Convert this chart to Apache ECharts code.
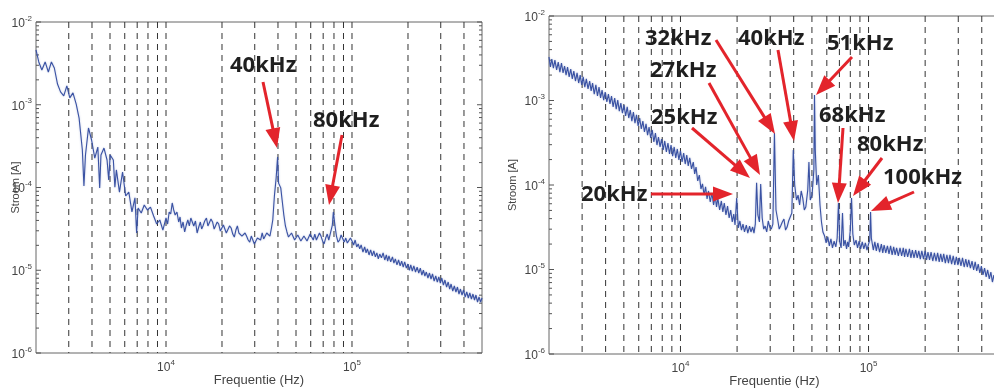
<!DOCTYPE html>
<html>
<head>
<meta charset="utf-8">
<script src="https://cdn.jsdelivr.net/npm/echarts@6/dist/echarts.min.js"></script>
<style>
html, body { margin: 0; padding: 0; background: #fff; }
#chart { width: 994px; height: 389px; }
</style>
</head>
<body>
<div id="chart"></div>
<script>
// spectra: [frequency (Hz), current (A)]
const leftSpectrum = [
	[2000, 4.59e-3], [2070, 3.29e-3], [2150, 2.63e-3], [2240, 3.29e-3], [2330, 2.49e-3], [2420, 3.29e-3], [2510, 2.78e-3], [2610, 1.78e-3], [2710, 1.43e-3], [2820, 1.28e-3],
	[2930, 1.69e-3], [3040, 1.21e-3], [3160, 1.39e-3], [3290, 1.02e-3], [3410, 6.9e-4], [3550, 2.84e-4], [3620, 1.04e-4], [3690, 2.47e-4], [3830, 5.24e-4], [3980, 3.75e-4],
	[4140, 2.27e-4], [4300, 3.08e-4], [4400, 9.9e-5], [4470, 2.47e-4], [4640, 3.0e-4], [4820, 2.15e-4], [4920, 1.23e-4], [5010, 2.47e-4], [5210, 2.15e-4], [5310, 1.01e-4],
	[5410, 1.63e-4], [5620, 8.8e-5], [5840, 1.54e-4], [6070, 7.9e-5], [6310, 8.8e-5], [6560, 5.06e-5], [6810, 7.5e-5], [6950, 2.82e-5], [7080, 5.65e-5], [7360, 4.92e-5],
	[7640, 6.15e-5], [7940, 5.35e-5], [8250, 5.8e-5], [8580, 4.53e-5], [8910, 3.62e-5], [9260, 4.05e-5], [9620, 3.06e-5],
	[10000, 4.28e-5], [10200, 3.62e-5], [10400, 5.06e-5], [10600, 4.78e-5], [10800, 6.5e-5], [11000, 5.35e-5], [11200, 4.65e-5], [11450, 5.06e-5], [11700, 3.83e-5], [11900, 4.4e-5],
	[12100, 3.24e-5], [12350, 3.83e-5], [12600, 2.9e-5], [12850, 3.52e-5], [13100, 4.05e-5], [13350, 3.43e-5], [13600, 4.28e-5], [13850, 3.83e-5], [14100, 3.43e-5], [14400, 3.94e-5],
	[14700, 2.82e-5], [15000, 3.33e-5], [15300, 3.83e-5], [15550, 3.15e-5], [15800, 3.43e-5], [16150, 3.94e-5], [16500, 4.28e-5], [16800, 3.43e-5], [17100, 3.62e-5], [17450, 4.16e-5],
	[17800, 3.83e-5], [18150, 3.15e-5], [18500, 3.24e-5], [18850, 3.83e-5], [19200, 3.62e-5], [19600, 2.98e-5], [20000, 3.06e-5], [20350, 3.52e-5], [20700, 3.43e-5], [21100, 2.82e-5],
	[21500, 2.9e-5], [21950, 3.43e-5], [22400, 3.24e-5], [22850, 2.74e-5], [23300, 2.52e-5], [23750, 3.06e-5], [24200, 3.43e-5], [24650, 2.82e-5], [25100, 2.9e-5], [25600, 2.59e-5],
	[26100, 2.45e-5], [26600, 2.82e-5], [27100, 2.59e-5], [27650, 2.32e-5], [28200, 2.19e-5], [28750, 2.59e-5], [29300, 2.45e-5], [29850, 2.08e-5], [30400, 2.13e-5], [31000, 2.45e-5],
	[31600, 2.59e-5], [32250, 2.32e-5], [32900, 2.82e-5], [33500, 2.39e-5], [34100, 2.45e-5], [34800, 2.82e-5], [35500, 2.9e-5], [36200, 2.59e-5], [36900, 3.24e-5], [37500, 4.05e-5],
	[38300, 8.1e-5], [39100, 1.3e-4], [39800, 2.34e-4], [40300, 1.13e-4], [41400, 9.9e-5], [42100, 7.06e-5], [43000, 4.65e-5], [43850, 3.43e-5], [44700, 2.9e-5], [45550, 2.52e-5],
	[46400, 2.45e-5], [47300, 2.82e-5], [48200, 2.74e-5], [49150, 2.32e-5], [50100, 2.32e-5], [51100, 2.67e-5], [52100, 2.59e-5], [53100, 2.26e-5], [54100, 2.19e-5], [55150, 2.59e-5],
	[56200, 2.67e-5], [57300, 2.26e-5], [58400, 2.32e-5], [59550, 2.74e-5], [60700, 2.52e-5], [61900, 2.32e-5], [63100, 2.74e-5], [64350, 2.32e-5], [65600, 2.39e-5], [66850, 2.82e-5],
	[68100, 2.59e-5], [69450, 2.26e-5], [70800, 2.08e-5], [72200, 2.45e-5], [73600, 2.74e-5], [75000, 2.32e-5], [76400, 2.45e-5], [78400, 3.52e-5], [79400, 5.06e-5], [81300, 3.24e-5],
	[82500, 2.59e-5], [84100, 2.19e-5], [85800, 2.32e-5], [87400, 2.67e-5], [89100, 2.59e-5], [90850, 2.19e-5], [92600, 2.45e-5], [94400, 2.13e-5], [96200, 2.08e-5], [98100, 2.45e-5],
	[100000, 2.26e-5], [102000, 2.02e-5], [104000, 2.32e-5], [106000, 1.91e-5], [108000, 2.08e-5], [110000, 1.81e-5], [112000, 2.02e-5], [114500, 1.66e-5], [117000, 1.91e-5], [119000, 1.62e-5],
	[121000, 1.81e-5], [123500, 1.53e-5], [126000, 1.76e-5], [128500, 1.49e-5], [131000, 1.71e-5], [133500, 1.45e-5], [136000, 1.62e-5], [138500, 1.37e-5], [141000, 1.57e-5], [144000, 1.41e-5],
	[147000, 1.62e-5], [150000, 1.33e-5], [153000, 1.53e-5], [155500, 1.29e-5], [158000, 1.49e-5], [161500, 1.26e-5], [165000, 1.45e-5], [168000, 1.22e-5], [171000, 1.37e-5], [174500, 1.16e-5],
	[178000, 1.33e-5], [181500, 1.13e-5], [185000, 1.29e-5], [188500, 1.09e-5], [192000, 1.26e-5], [196000, 1.06e-5], [200000, 1.19e-5], [203500, 1.0e-5], [207000, 1.16e-5], [211000, 9.79e-6],
	[215000, 1.13e-5], [219500, 9.52e-6], [224000, 1.09e-5], [228500, 9.26e-6], [233000, 1.06e-5], [237500, 8.76e-6], [242000, 1.0e-5], [246500, 8.52e-6], [251000, 9.52e-6], [256000, 8.06e-6],
	[261000, 9.26e-6], [266000, 7.84e-6], [271000, 9.01e-6], [276500, 7.41e-6], [282000, 8.52e-6], [287500, 7.21e-6], [293000, 8.29e-6], [298500, 7.01e-6], [304000, 8.06e-6], [310000, 6.63e-6],
	[316000, 7.62e-6], [322500, 6.27e-6], [329000, 7.21e-6], [335000, 5.93e-6], [341000, 6.82e-6], [348000, 5.61e-6], [355000, 6.45e-6], [362000, 5.46e-6], [369000, 6.27e-6], [376000, 5.16e-6],
	[383000, 5.93e-6], [390500, 5.02e-6], [398000, 5.77e-6], [406000, 4.75e-6], [414000, 5.46e-6], [422000, 4.62e-6], [430000, 5.31e-6], [438500, 4.49e-6], [447000, 5.16e-6], [455500, 4.37e-6],
	[464000, 5.02e-6], [473000, 4.13e-6], [482000, 4.75e-6], [491000, 4.13e-6], [500000, 4.62e-6]
];

const rightSpectrum = [
	[2000, 3.27e-3], [2035, 2.49e-3], [2070, 3.1e-3], [2110, 2.42e-3], [2150, 3.01e-3], [2195, 2.3e-3], [2240, 2.85e-3], [2285, 2.17e-3], [2330, 2.78e-3], [2375, 2.12e-3],
	[2420, 2.56e-3], [2465, 2.0e-3], [2510, 2.49e-3], [2560, 1.9e-3], [2610, 2.36e-3], [2660, 1.8e-3], [2710, 2.23e-3], [2765, 1.7e-3], [2820, 2.12e-3], [2875, 1.61e-3],
	[2930, 2.0e-3], [2985, 1.53e-3], [3040, 1.9e-3], [3100, 1.44e-3], [3160, 1.8e-3], [3225, 1.37e-3], [3290, 1.7e-3], [3350, 1.3e-3], [3410, 1.61e-3], [3480, 1.19e-3],
	[3550, 1.53e-3], [3620, 1.13e-3], [3690, 1.44e-3], [3760, 1.07e-3], [3830, 1.33e-3], [3905, 1.01e-3], [3980, 1.26e-3], [4060, 9.6e-4], [4140, 1.19e-3], [4220, 9.1e-4],
	[4300, 1.13e-3], [4385, 8.4e-4], [4470, 1.07e-3], [4555, 7.9e-4], [4640, 1.01e-3], [4730, 7.5e-4], [4820, 9.3e-4], [4915, 7.1e-4], [5010, 8.85e-4], [5110, 6.55e-4],
	[5210, 8.4e-4], [5310, 6.2e-4], [5410, 7.72e-4], [5515, 5.7e-4], [5620, 7.31e-4], [5730, 5.4e-4], [5840, 6.75e-4], [5955, 5.0e-4], [6070, 6.2e-4], [6190, 4.6e-4],
	[6310, 5.7e-4], [6435, 4.24e-4], [6560, 5.3e-4], [6685, 3.9e-4], [6810, 4.86e-4], [6945, 3.6e-4], [7080, 4.48e-4], [7220, 3.23e-4], [7360, 4.12e-4], [7500, 2.97e-4],
	[7640, 3.7e-4], [7790, 2.82e-4], [7940, 3.5e-4], [8095, 2.6e-4], [8250, 3.32e-4], [8415, 2.46e-4], [8580, 3.14e-4], [8745, 2.33e-4], [8910, 2.97e-4], [9085, 2.2e-4],
	[9260, 2.82e-4], [9440, 2.09e-4], [9620, 2.67e-4], [9810, 1.98e-4],
	[10000, 2.53e-4], [10200, 1.87e-4], [10400, 2.39e-4], [10600, 1.77e-4], [10800, 2.26e-4], [11000, 1.68e-4], [11200, 2.09e-4], [11450, 1.55e-4], [11700, 1.87e-4], [11900, 1.35e-4],
	[12100, 1.63e-4], [12350, 1.12e-4], [12600, 1.31e-4], [12850, 8.97e-5], [13100, 1.03e-4], [13350, 7.61e-5], [13600, 9.5e-5], [13850, 6.83e-5], [14100, 8.5e-5], [14400, 6.29e-5],
	[14700, 8.04e-5], [15000, 5.8e-5], [15300, 7.41e-5], [15550, 5.49e-5], [15800, 7.02e-5], [16150, 5.06e-5], [16500, 6.47e-5], [16800, 4.79e-5], [17100, 6.12e-5], [17450, 4.42e-5],
	[17800, 5.64e-5], [18150, 4.07e-5], [18500, 5.06e-5], [18850, 3.65e-5], [19200, 4.54e-5], [19500, 3.36e-5], [19900, 7.02e-5], [20300, 3.1e-5], [20700, 3.75e-5], [21100, 2.93e-5],
	[21500, 3.45e-5], [21900, 2.78e-5], [22400, 3.36e-5], [22800, 2.7e-5], [23300, 3.27e-5], [23700, 2.78e-5], [24200, 3.18e-5], [24600, 2.7e-5], [25000, 3.45e-5], [25400, 1.06e-4],
	[25800, 4.42e-5], [26300, 3.65e-5], [26700, 1.03e-4], [27200, 4.07e-5], [27700, 3.01e-5], [28200, 3.27e-5], [28750, 2.78e-5], [29300, 3.75e-5], [29850, 3.18e-5], [30400, 3.01e-5],
	[31000, 3.45e-5], [31600, 4.12e-4], [32200, 5.06e-5], [32900, 3.85e-5], [33500, 3.01e-5], [34100, 3.27e-5], [34800, 3.65e-5], [35500, 3.96e-5], [36200, 2.93e-5], [36900, 3.18e-5],
	[37600, 3.75e-5], [38300, 3.65e-5], [39100, 4.66e-5], [39800, 2.6e-4], [40500, 1.0e-4], [41400, 6.65e-5], [42200, 7.6e-5], [43000, 5.8e-5], [43850, 8.5e-5], [44700, 7.0e-5],
	[45550, 5.06e-5], [46400, 5.5e-5], [47500, 8.7e-5], [48200, 1.87e-4], [49000, 6.65e-5], [50100, 7.6e-5], [51200, 1.51e-4], [51600, 1.16e-3], [52100, 2.6e-4], [53000, 1.0e-4],
	[54100, 1.31e-4], [55200, 5.8e-5], [56200, 3.65e-5], [57200, 2.78e-5], [58400, 2.49e-5], [59500, 2.06e-5], [60700, 2.43e-5], [61900, 1.9e-5], [63100, 2.3e-5], [64300, 1.8e-5],
	[65600, 2.17e-5], [67000, 1.85e-5], [68100, 2.36e-5], [69200, 6.12e-5], [70300, 2.12e-5], [71500, 1.8e-5], [72700, 4.66e-5], [73800, 1.9e-5], [75100, 2.23e-5], [76400, 1.75e-5],
	[77400, 2.12e-5], [78400, 1.85e-5], [80000, 2.93e-5], [81200, 7.02e-5], [82500, 2.63e-5], [84000, 1.95e-5], [85800, 2.23e-5], [87400, 1.8e-5], [89100, 2.17e-5], [90800, 1.75e-5],
	[92600, 2.12e-5], [94400, 1.75e-5], [96200, 2.06e-5], [98100, 1.7e-5],
	[100000, 2.0e-5], [101500, 2.23e-5], [102500, 4.79e-5], [103500, 2.36e-5], [106000, 1.7e-5], [108000, 2.12e-5], [110000, 1.66e-5], [112000, 2.06e-5], [114500, 1.61e-5], [117000, 2.0e-5],
	[119000, 1.57e-5], [121000, 1.95e-5], [123500, 1.57e-5], [126000, 1.9e-5], [128500, 1.53e-5], [131000, 1.9e-5], [133500, 1.49e-5], [136000, 1.85e-5], [138500, 1.49e-5], [141000, 1.8e-5],
	[144000, 1.45e-5], [147000, 1.8e-5], [150000, 1.45e-5], [153000, 1.8e-5], [155500, 1.41e-5], [158000, 1.75e-5], [161500, 1.41e-5], [165000, 1.75e-5], [168000, 1.37e-5], [171000, 1.7e-5],
	[174500, 1.37e-5], [178000, 1.7e-5], [181500, 1.37e-5], [185000, 1.66e-5], [188500, 1.33e-5], [192000, 1.66e-5], [196000, 1.33e-5], [200000, 1.66e-5], [203500, 1.3e-5], [207000, 1.61e-5],
	[211000, 1.3e-5], [215000, 1.61e-5], [219500, 1.26e-5], [224000, 1.57e-5], [228500, 1.26e-5], [233000, 1.57e-5], [237500, 1.23e-5], [242000, 1.53e-5], [246500, 1.23e-5], [251000, 1.53e-5],
	[256000, 1.19e-5], [261000, 1.49e-5], [266000, 1.19e-5], [271000, 1.49e-5], [276500, 1.16e-5], [282000, 1.45e-5], [287500, 1.13e-5], [293000, 1.41e-5], [298500, 1.13e-5], [304000, 1.37e-5],
	[310000, 1.1e-5], [316000, 1.37e-5], [322500, 1.07e-5], [329000, 1.33e-5], [335000, 1.07e-5], [341000, 1.3e-5], [348000, 1.04e-5], [355000, 1.26e-5], [362000, 9.87e-6], [369000, 1.23e-5],
	[376000, 9.6e-6], [383000, 1.16e-5], [390500, 9.09e-6], [398000, 1.1e-5], [406000, 8.61e-6], [414000, 1.04e-5], [422000, 8.15e-6], [430000, 9.87e-6], [438500, 7.72e-6], [447000, 9.34e-6],
	[455500, 7.11e-6], [464000, 8.61e-6], [473000, 6.74e-6], [482000, 8.15e-6], [491000, 6.38e-6], [500000, 7.72e-6]
];

// dashed vertical grid lines (Hz)
const gridFreqs = [3000, 4000, 5000, 6000, 7000, 8000, 9000, 10000, 20000, 30000, 40000, 50000, 60000, 70000, 80000, 90000, 100000, 200000, 300000, 400000];

// tick marks on the current axes (A)
const currentTicks = [
	1e-6, 2e-6, 3e-6, 4e-6, 5e-6, 6e-6, 7e-6, 8e-6, 9e-6,
	1e-5, 2e-5, 3e-5, 4e-5, 5e-5, 6e-5, 7e-5, 8e-5, 9e-5,
	1e-4, 2e-4, 3e-4, 4e-4, 5e-4, 6e-4, 7e-4, 8e-4, 9e-4,
	1e-3, 2e-3, 3e-3, 4e-3, 5e-3, 6e-3, 7e-3, 8e-3, 9e-3, 1e-2
];

const freqRange = [2000, 500000];
const currentRange = [1e-6, 1e-2];

const axisGrey = '#555';
const lineBlue = '#3a52a3';
const red = '#e3242b';

function powLabel(v) {
	let e = Math.log10(v);
	let r = Math.round(e);
	if (Math.abs(e - r) > 1e-6) return '';
	return '{b|10}{s|' + r + '}';
}

const powRich = {
	b: { fontSize: 12, color: '#444', fontFamily: 'Liberation Sans', verticalAlign: 'bottom' },
	s: { fontSize: 8, color: '#444', fontFamily: 'Liberation Sans', verticalAlign: 'bottom', padding: [0, 0, 7, 0] }
};

function xAxisFor(gi) {
	return {
		type: 'log', logBase: 10, gridIndex: gi,
		min: freqRange[0], max: freqRange[1],
		name: 'Frequentie (Hz)', nameLocation: 'middle', nameGap: 21, nameMoveOverlap: false,
		nameTextStyle: { fontSize: 13, color: '#444', fontFamily: 'Liberation Sans' },
		axisLine: { show: false },
		axisTick: { show: false },
		splitLine: { show: false },
		axisLabel: { formatter: powLabel, rich: powRich, margin: 6 }
	};
}

function yAxisFor(gi, gap) {
	return {
		type: 'log', logBase: 10, gridIndex: gi,
		min: currentRange[0], max: currentRange[1],
		name: 'Stroom [A]', nameLocation: 'middle', nameGap: gap, nameMoveOverlap: false,
		nameTextStyle: { fontSize: 11, color: '#444', fontFamily: 'Liberation Sans' },
		axisLine: { show: false },
		axisTick: { show: false },
		splitLine: { show: false },
		axisLabel: { formatter: powLabel, rich: powRich, margin: 4 }
	};
}

// dashed frequency grid lines, drawn through the axes
function gridSeries(gi) {
	return {
		type: 'custom', xAxisIndex: gi, yAxisIndex: gi, silent: true, z: 1,
		data: gridFreqs.map(f => [f, 1e-4]),
		renderItem: function(params, api) {
			let f = api.value(0);
			let top = api.coord([f, currentRange[1]]);
			let bot = api.coord([f, currentRange[0]]);
			return {
				type: 'line',
				shape: { x1: top[0], y1: top[1], x2: bot[0], y2: bot[1] },
				style: { stroke: '#333', lineWidth: 1, lineDash: [6, 5] }
			};
		}
	};
}

// ticks on left and right edges of the box
function tickSeries(gi) {
	return {
		type: 'custom', xAxisIndex: gi, yAxisIndex: gi, silent: true, z: 1,
		data: currentTicks.map(c => [freqRange[0], c]),
		renderItem: function(params, api) {
			let c = api.value(1);
			let e = Math.log10(c);
			let len = Math.abs(e - Math.round(e)) < 1e-6 ? 5 : 3;
			let l = api.coord([freqRange[0], c]);
			let r = api.coord([freqRange[1], c]);
			return {
				type: 'group',
				children: [
					{ type: 'line', shape: { x1: l[0], y1: l[1], x2: l[0] + len, y2: l[1] }, style: { stroke: axisGrey, lineWidth: 1 } },
					{ type: 'line', shape: { x1: r[0] - len, y1: r[1], x2: r[0], y2: r[1] }, style: { stroke: axisGrey, lineWidth: 1 } }
				]
			};
		}
	};
}

function spectrumSeries(gi, data) {
	return {
		type: 'line', xAxisIndex: gi, yAxisIndex: gi, z: 3,
		data: data,
		showSymbol: false,
		symbol: 'none',
		lineStyle: { color: lineBlue, width: 1.1, shadowColor: 'rgba(60,85,170,0.35)', shadowBlur: 2 }
	};
}

// annotation layout: label, text left/centre-y, arrow tail, arrow tip (pixels)
const notes = [
	['40kHz', 230, 66, 263, 82, 277, 148],
	['80kHz', 313, 121, 342, 135, 329, 205],
	['32kHz', 645, 39, 716, 40, 775, 134],
	['27kHz', 650, 71, 709, 83, 760, 175],
	['25kHz', 651, 118, 692, 128, 750, 178],
	['20kHz', 581, 195, 651, 194, 733, 194],
	['40kHz', 738, 39, 778, 50, 794, 141],
	['51kHz', 827, 44, 852, 57, 816, 95],
	['68kHz', 819, 116, 843, 128, 838, 203],
	['80kHz', 857, 145, 882, 158, 853, 196],
	['100kHz', 883, 178, 914, 192, 871, 211]
];

function arrow(x1, y1, x2, y2) {
	let dx = x2 - x1, dy = y2 - y1;
	let len = Math.sqrt(dx * dx + dy * dy);
	let ux = dx / len, uy = dy / len;
	let hl = 20, hw = 7.5;
	let bx = x2 - ux * hl, by = y2 - uy * hl;
	return [
		{ type: 'line', z: 10, shape: { x1: x1, y1: y1, x2: bx + ux * 3, y2: by + uy * 3 }, style: { stroke: red, lineWidth: 3 } },
		{ type: 'polygon', z: 10, shape: { points: [[x2, y2], [bx - uy * hw, by + ux * hw], [bx + uy * hw, by - ux * hw]] }, style: { fill: red } }
	];
}

let graphics = [];
notes.forEach(n => {
	graphics.push({
		type: 'text', z: 10, x: n[1], y: n[2],
		style: { text: n[0], font: 'bold 22px "Open Sans"', fill: '#1f1f1f', align: 'left', verticalAlign: 'middle' }
	});
	graphics = graphics.concat(arrow(n[3], n[4], n[5], n[6]));
});

let myChart = echarts.init(document.getElementById('chart'), null, { renderer: 'canvas' });
let option = {
	animation: false,
	backgroundColor: '#fff',
	grid: [
		{ left: 36, top: 22, width: 446, height: 331, show: true, borderColor: '#666', borderWidth: 1, outerBoundsMode: 'none' },
		{ left: 549, top: 16, width: 451, height: 338, show: true, borderColor: '#666', borderWidth: 1, outerBoundsMode: 'none' }
	],
	xAxis: [xAxisFor(0), xAxisFor(1)],
	yAxis: [yAxisFor(0, 15), yAxisFor(1, 31)],
	series: [
		gridSeries(0), tickSeries(0), spectrumSeries(0, leftSpectrum),
		gridSeries(1), tickSeries(1), spectrumSeries(1, rightSpectrum)
	],
	graphic: graphics
};
myChart.setOption(option);
window.onresize = myChart.resize;
</script>
</body>
</html>
